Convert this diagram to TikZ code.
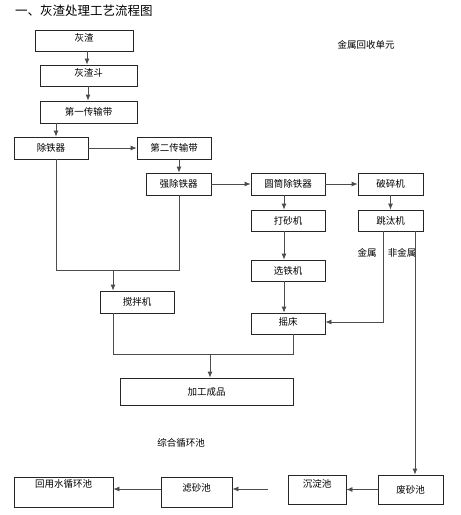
\documentclass[tikz,border=0pt]{standalone}
\usepackage{fontspec}
\setmainfont{Noto Sans CJK SC}
\usetikzlibrary{arrows.meta}
\begin{document}
\begin{tikzpicture}[x=1pt,y=-1pt,
  box/.style={draw=black!85,line width=0.8pt,rectangle,inner sep=0pt,font=\fontsize{9.5}{11}\selectfont},
  arr/.style={draw=black!70,line width=0.8pt,-{Latex[length=6pt,width=5pt]}},
  ln/.style={draw=black!70,line width=0.8pt},
  txt/.style={inner sep=0pt,font=\fontsize{9.5}{11}\selectfont}]
\useasboundingbox (0,0) rectangle (461,515);
\fill[white] (0,0) rectangle (461,515);
% title and captions
\node[txt,anchor=west,font=\fontsize{12.5}{14}\selectfont] (title) at (15,11) {一、灰渣处理工艺流程图};
\node[txt] (unit) at (366,45) {金属回收单元};
\node[txt] (cycle) at (181,443) {综合循环池};
% boxes
\node[box,minimum width=98pt,minimum height=21pt,text depth=6pt] (huizha) at (84,40.5) {灰渣};
\node[box,minimum width=97pt,minimum height=21pt,text depth=6pt] (dou) at (88.5,75.5) {灰渣斗};
\node[box,minimum width=97pt,minimum height=22pt] (belt1) at (88.5,112) {第一传输带};
\node[box,minimum width=74pt,minimum height=22pt] (chutie) at (51,148) {除铁器};
\node[box,minimum width=74pt,minimum height=22pt] (belt2) at (174,148) {第二传输带};
\node[box,minimum width=65pt,minimum height=22pt] (qiang) at (178.5,184) {强除铁器};
\node[box,minimum width=74pt,minimum height=22pt] (yuantong) at (288,184) {圆筒除铁器};
\node[box,minimum width=65pt,minimum height=22pt] (posui) at (390.5,184) {破碎机};
\node[box,minimum width=74pt,minimum height=21pt] (dasha) at (288,220.5) {打砂机};
\node[box,minimum width=65pt,minimum height=21pt] (tiaotai) at (390.5,220.5) {跳汰机};
\node[box,minimum width=74pt,minimum height=21pt] (xuantie) at (288,270.5) {选铁机};
\node[box,minimum width=74pt,minimum height=21pt,text depth=4pt] (yaochuang) at (288,323.5) {摇床};
\node[box,minimum width=74pt,minimum height=22pt] (jiaoban) at (137,302) {搅拌机};
\node[box,minimum width=173pt,minimum height=27pt] (chengpin) at (206.5,391.5) {加工成品};
\node[box,minimum width=99pt,minimum height=30pt,text depth=16pt] (huiyong) at (63.5,492) {回用水循环池};
\node[box,minimum width=71pt,minimum height=30pt,text depth=8pt] (lvsha) at (196.5,492) {滤砂池};
\node[box,minimum width=58pt,minimum height=29pt,text depth=12pt] (chendian) at (317,489.5) {沉淀池};
\node[box,minimum width=65pt,minimum height=29pt] (feisha) at (410.5,489.5) {废砂池};
% labels
\node[txt] (jinshu) at (367,253) {金属};
\node[txt] (feijinshu) at (402,253) {非金属};
% connectors
\draw[arr] (87,0 |- huizha.south) -- (87,0 |- dou.north);
\draw[arr] (88,0 |- dou.south) -- (88,0 |- belt1.north);
\draw[arr] (56,0 |- belt1.south) -- (56,0 |- chutie.north);
\draw[arr] (chutie.east) -- (belt2.west);
\draw[arr] (179,0 |- belt2.south) -- (179,0 |- qiang.north);
\draw[arr] (qiang.east) -- (yuantong.west);
\draw[arr] (yuantong.east) -- (posui.west);
\draw[arr] (284,0 |- yuantong.south) -- (284,0 |- dasha.north);
\draw[arr] (posui.south) -- (tiaotai.north);
\draw[arr] (284,0 |- dasha.south) -- (284,0 |- xuantie.north);
\draw[arr] (284,0 |- xuantie.south) -- (284,0 |- yaochuang.north);
\draw[arr] (383,0 |- tiaotai.south) -- (383,322) -- (yaochuang.east |- 0,322);
\draw[arr] (415,0 |- tiaotai.south) -- (415,0 |- feisha.north);
% merge to mixer
\coordinate (m1) at (113,270);
\draw[ln] (56,0 |- chutie.south) -- (56,270) -- (179,270) -- (179,0 |- qiang.south);
\draw[arr] (m1) -- (m1 |- jiaoban.north);
% merge to product
\coordinate (m2) at (210,354);
\draw[ln] (113,0 |- jiaoban.south) -- (113,354) -- (293,354) -- (293,0 |- yaochuang.south);
\draw[arr] (m2) -- (m2 |- chengpin.north);
% bottom row
\draw[arr] (feisha.west) -- (chendian.east);
\coordinate (s1) at (268,489);
\draw[arr] (s1) -- (s1 -| lvsha.east);
\draw[arr] (lvsha.west |- 0,489) -- (huiyong.east |- 0,489);
\end{tikzpicture}
\end{document}
